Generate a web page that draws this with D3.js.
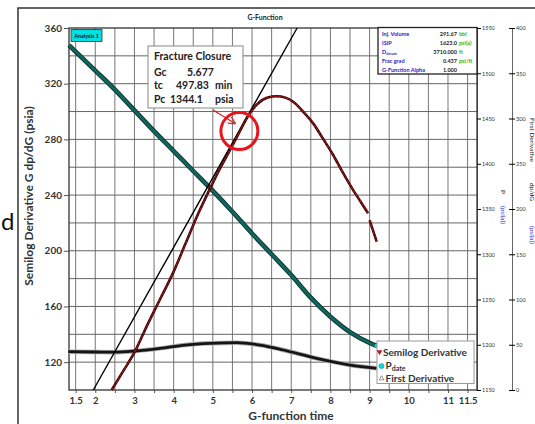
<html>
<head>
<script src="https://d3js.org/d3.v7.min.js"></script>
<style>
  body { margin: 0; background: white; }
  svg text { font-family: Lato, "Open Sans", sans-serif; }
</style>
</head>
<body>
<svg id="chart" width="535" height="424"></svg>
<script>
// ---- data ----
const gPdate = [1.33, 2, 2.5, 3, 3.5, 4, 4.5, 5, 5.5, 6, 6.5, 7, 7.5, 8, 8.5, 9, 9.17]
const pDate  = [1531, 1503, 1482, 1459, 1436, 1414, 1392, 1370, 1347, 1323, 1300, 1277, 1252, 1231, 1214, 1202, 1199]

const gSemilog = [2.42, 2.7, 3.01, 3.3, 3.65, 4.0, 4.3, 4.6, 4.9, 5.2, 5.45, 5.7, 5.86, 6.12, 6.4, 6.63, 6.85, 7.05, 7.3, 7.56, 7.8, 8.07, 8.3, 8.58, 8.8, 8.96, 8.98, 9.0, 9.18]
const semilog  = [100, 113, 127.5, 145, 165, 185, 205, 225, 243, 260, 273, 286.5, 295, 305, 310, 311, 310, 307, 300, 291.5, 281, 268.8, 257, 243.6, 234, 227, null, 222, 206.5]

const gFirst = [1.31, 2.0, 2.46, 3.01, 3.65, 4.29, 4.93, 5.61, 6.2, 6.8, 7.65, 8.5, 9.18]
const firstDeriv = [42.3, 42, 41.8, 43.1, 46, 49.7, 51.6, 52.3, 49.7, 44.2, 35, 27.6, 24]

const tangentG = [1.95, 7.15]
const tangentV = [100, 360]

const closure = {Gc: 5.677, tc: 497.83, Pc: 1344.1, v: 286}

const xTicks = [1.5, 2, 3, 4, 5, 6, 7, 8, 9, 10, 11, 11.5]
const yTicks = [120, 160, 200, 240, 280, 320, 360]
const pTicks = d3.range(1150, 1551, 50)
const dTicks = d3.range(0, 401, 50)

const infoLabels = ["Inj. Volume", "ISIP", "D", "Frac grad", "G-Function Alpha"]
const infoValues = ["291.67", "1623.0", "3710.000", "0.437", "1.000"]
const infoUnits  = ["bbl", "psi(a)", "ft", "psi/ft", ""]

const svg = d3.select("#chart")
const margin = {top: 28, right: 58, bottom: 34, left: 69}
const W = 535, H = 424

const x  = d3.scaleLinear().domain([1.33, 11.74]).range([margin.left, W - margin.right])
const yL = d3.scaleLinear().domain([100, 360]).range([H - margin.bottom, margin.top])
const yP = d3.scaleLinear().domain([1150, 1550]).range([H - margin.bottom, margin.top])
const yD = d3.scaleLinear().domain([0, 400]).range([H - margin.bottom, margin.top])

const x0 = x.range()[0], x1 = x.range()[1]
const yT = yL.range()[1], yB = yL.range()[0]

// outer frame
svg.append("path").attr("d", `M18,424 L18,8 L535,8`).attr("fill", "none").attr("stroke", "#333").attr("stroke-width", 1.5)
svg.append("text").attr("x", 265).attr("y", 20).attr("text-anchor", "middle")
  .attr("font-size", 7).attr("font-weight", "bold").attr("fill", "#222").text("G-Function")

// grid
const gridX = d3.range(1.5, 11.51, 0.5)
const gridY = d3.range(120, 341, 20)
svg.append("g").selectAll("line").data(gridX).join("line")
  .attr("x1", d => x(d)).attr("x2", d => x(d)).attr("y1", yT).attr("y2", yB)
  .attr("stroke", "#777").attr("stroke-width", 1)
svg.append("g").selectAll("line").data(gridY).join("line")
  .attr("x1", x0).attr("x2", x1).attr("y1", d => yL(d)).attr("y2", d => yL(d))
  .attr("stroke", "#666").attr("stroke-width", 1)

svg.append("rect").attr("x", x0).attr("y", yT).attr("width", x1 - x0).attr("height", yB - yT)
  .attr("fill", "none").attr("stroke", "#333").attr("stroke-width", 1.3)

// left axis
const axL = svg.append("g").attr("transform", `translate(${x0},0)`)
  .call(d3.axisLeft(yL).tickValues(yTicks).tickSize(5).tickPadding(2))
axL.select(".domain").remove()
axL.selectAll("text").attr("font-size", 10).attr("font-weight", "bold").attr("fill", "#333").attr("font-family", "Lato")
axL.selectAll("line").attr("stroke", "#555")

// bottom axis
const axB = svg.append("g").attr("transform", `translate(0,${yB})`)
  .call(d3.axisBottom(x).tickValues(gridX).tickSize(3).tickPadding(4)
    .tickFormat(d => xTicks.includes(d) ? d3.format("")(d) : ""))
axB.select(".domain").remove()
axB.selectAll("text").attr("font-size", 9.5).attr("font-weight", "bold").attr("fill", "#333").attr("font-family", "Lato")
axB.selectAll("line").attr("stroke", "#555")

// right axes
const axP = svg.append("g").attr("transform", `translate(${x1},0)`)
  .call(d3.axisRight(yP).tickValues(pTicks).tickFormat(d3.format("d")).tickSize(4).tickSizeOuter(0).tickPadding(1))
axP.selectAll("text").attr("font-size", 5.5).attr("fill", "#333").attr("font-family", "Liberation Sans")
axP.select(".domain").attr("stroke", "#444")

const axD = svg.append("g").attr("transform", `translate(512,0)`)
  .call(d3.axisRight(yD).tickValues(dTicks).tickFormat(d3.format("d")).tickSize(3).tickSizeOuter(0).tickPadding(1))
axD.selectAll(".tick line").attr("x1", -3)
axD.selectAll("text").attr("font-size", 5.5).attr("fill", "#333").attr("font-family", "Liberation Sans")
axD.select(".domain").attr("stroke", "#666")

// axis titles
svg.append("text").attr("transform", "translate(33,196) rotate(-90)").attr("text-anchor", "middle")
  .attr("font-size", 12).attr("font-weight", "bold").attr("fill", "#333").text("Semilog Derivative G dp/dG (psia)")
svg.append("text").attr("x", 291).attr("y", 420).attr("text-anchor", "middle")
  .attr("font-size", 12).attr("font-weight", "bold").attr("fill", "#333").text("G-function time")

function vtext(t, cx, cy, color) {
  svg.append("text").attr("transform", `translate(${cx},${cy}) rotate(90)`).attr("text-anchor", "middle")
    .attr("font-size", 6.5).attr("font-family", "Liberation Sans").attr("fill", color).text(t)
}
vtext("P", 501, 192, "#222")
vtext("(psi(a))", 501, 215, "#3333cc")
vtext("First Derivative", 530, 140, "#222")
vtext("dp/dG", 530, 192, "#222")
vtext("(psi(a))", 530, 235, "#3333cc")

// series
const pdateLine = d3.line().x((d, i) => x(gPdate[i])).y(d => yP(d)).curve(d3.curveMonotoneX)
svg.append("path").datum(pDate).attr("d", pdateLine).attr("fill", "none")
  .attr("stroke", "#0a3430").attr("stroke-width", 4.6)
svg.append("path").datum(pDate).attr("d", pdateLine).attr("fill", "none")
  .attr("stroke", "#12665e").attr("stroke-width", 2.8)
svg.append("circle").attr("cx", x(gPdate[gPdate.length - 1])).attr("cy", yP(pDate[pDate.length - 1])).attr("r", 2)
  .attr("fill", "#10d8e0").attr("stroke", "#0a6a70").attr("stroke-width", 0.5)

const firstLine = d3.line().x((d, i) => x(gFirst[i])).y(d => yD(d)).curve(d3.curveMonotoneX)
svg.append("path").datum(firstDeriv).attr("d", firstLine).attr("fill", "none")
  .attr("stroke", "#aaa").attr("stroke-width", 4.5)
svg.append("path").datum(firstDeriv).attr("d", firstLine).attr("fill", "none")
  .attr("stroke", "#151515").attr("stroke-width", 2.8)

const tangentLine = d3.line().x((d, i) => x(tangentG[i])).y(d => yL(d))
svg.append("path").datum(tangentV).attr("d", tangentLine).attr("fill", "none")
  .attr("stroke", "#000").attr("stroke-width", 1.4)

const semiLine = d3.line().defined(d => d !== null).x((d, i) => x(gSemilog[i])).y(d => yL(d)).curve(d3.curveMonotoneX)
svg.append("path").datum(semilog).attr("d", semiLine).attr("fill", "none")
  .attr("stroke", "#3a0606").attr("stroke-width", 2.6)
svg.append("path").datum(semilog).attr("d", semiLine).attr("fill", "none")
  .attr("stroke", "#a31a1a").attr("stroke-width", 1.1).attr("stroke-dasharray", "3,1")

// Analysis 1 tag
svg.append("rect").attr("x", 71).attr("y", 29.5).attr("width", 31).attr("height", 12)
  .attr("fill", "#00e0e0").attr("stroke", "#333").attr("stroke-width", 0.8)
svg.append("text").attr("x", 86.5).attr("y", 37.5).attr("text-anchor", "middle")
  .attr("font-size", 5.5).attr("font-weight", "bold").attr("font-family", "Liberation Sans").attr("fill", "#113").text("Analysis 1")

// info box
svg.append("rect").attr("x", 378).attr("y", 27.5).attr("width", 99).attr("height", 46.5)
  .attr("fill", "white").attr("stroke", "#222").attr("stroke-width", 1.3)
const info = svg.append("g").attr("font-family", "Liberation Sans").attr("font-size", 5.5).attr("font-weight", "bold")
infoLabels.forEach((l, i) => {
  const yy = 35.5 + i * 9
  const t = info.append("text").attr("x", 382).attr("y", yy).attr("fill", "#2222cc").text(l)
  if (l === "D") t.append("tspan").attr("font-size", 3.8).attr("dy", 1.5).text("datum")
  info.append("text").attr("x", 457).attr("y", yy).attr("text-anchor", "end").attr("fill", "#222").text(infoValues[i])
  info.append("text").attr("x", 459).attr("y", yy).attr("fill", "#22bb22").text(infoUnits[i])
})

// fracture closure box
svg.append("rect").attr("x", 148).attr("y", 46).attr("width", 95).attr("height", 62)
  .attr("fill", "white").attr("stroke", "#888").attr("stroke-width", 1)
const fc = svg.append("g").attr("font-size", 10.5).attr("font-weight", "bold").attr("fill", "#222")
fc.append("text").attr("x", 154).attr("y", 60).text("Fracture Closure")
fc.append("text").attr("x", 154).attr("y", 75.5).text("Gc")
fc.append("text").attr("x", 187).attr("y", 75.5).text(closure.Gc.toFixed(3))
fc.append("text").attr("x", 154).attr("y", 89).text("tc")
fc.append("text").attr("x", 176).attr("y", 89).text(closure.tc.toFixed(2))
fc.append("text").attr("x", 215).attr("y", 89).text("min")
fc.append("text").attr("x", 154).attr("y", 102.5).text("Pc")
fc.append("text").attr("x", 170).attr("y", 102.5).text(closure.Pc.toFixed(1))
fc.append("text").attr("x", 215).attr("y", 102.5).text("psia")

// closure marker
svg.append("defs").append("marker").attr("id", "arr").attr("viewBox", "0 0 10 10")
  .attr("refX", 9).attr("refY", 5).attr("markerWidth", 6).attr("markerHeight", 6).attr("orient", "auto")
  .append("path").attr("d", "M0,0 L10,5 L0,10").attr("fill", "none").attr("stroke", "#e02020").attr("stroke-width", 1.5)
svg.append("line").attr("x1", 213).attr("y1", 110).attr("x2", 235).attr("y2", 123.5)
  .attr("stroke", "#e02020").attr("stroke-width", 1.3).attr("marker-end", "url(#arr)")
svg.append("circle").attr("cx", x(closure.Gc)).attr("cy", yL(closure.v)).attr("r", 18.5)
  .attr("fill", "none").attr("stroke", "#e8141e").attr("stroke-width", 3)

// legend
svg.append("rect").attr("x", 377).attr("y", 341).attr("width", 97).attr("height", 42.5)
  .attr("fill", "white").attr("stroke", "#999").attr("stroke-width", 1)
const lg = svg.append("g").attr("font-size", 10).attr("font-weight", "bold").attr("fill", "#333")
lg.append("path").attr("d", d3.symbol(d3.symbolTriangle, 14)()).attr("transform", "translate(379.5,352) rotate(180)").attr("fill", "#c01818")
lg.append("text").attr("x", 383).attr("y", 355.5).text("Semilog Derivative")
lg.append("circle").attr("cx", 381.5).attr("cy", 366).attr("r", 2.6).attr("fill", "#10d8e0").attr("stroke", "#0a8a90").attr("stroke-width", 0.5)
const pt = lg.append("text").attr("x", 385.5).attr("y", 369).text("P")
pt.append("tspan").attr("font-size", 7).attr("dy", 2).text("date")
lg.append("path").attr("d", d3.symbol(d3.symbolTriangle, 10)()).attr("transform", "translate(381.5,378.5)").attr("fill", "none").attr("stroke", "#777").attr("stroke-width", 0.8)
lg.append("text").attr("x", 385.5).attr("y", 381.5).text("First Derivative")

// stray letter from the source page
svg.append("text").attr("x", 1).attr("y", 230).attr("font-size", 24).attr("font-family", "Liberation Sans").attr("fill", "#111").text("d")
</script>
</body>
</html>
